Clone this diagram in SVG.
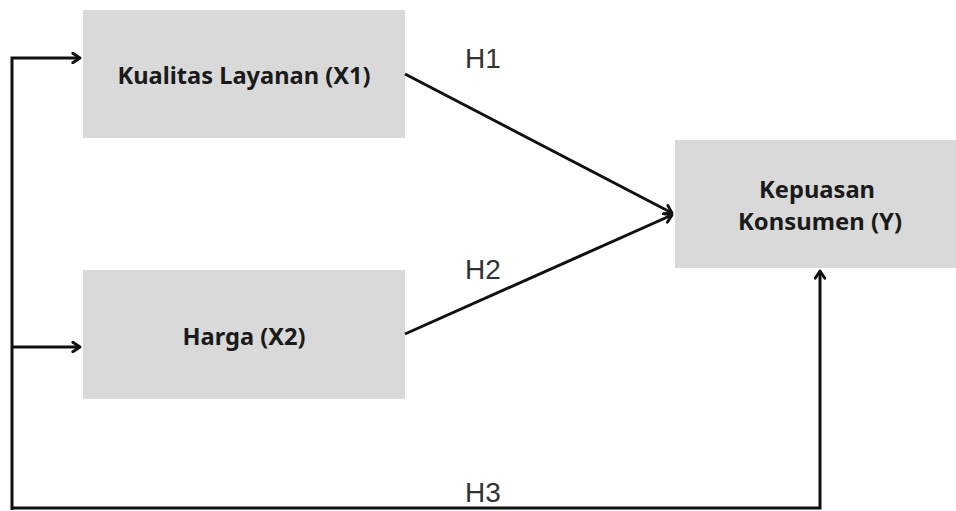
<svg xmlns="http://www.w3.org/2000/svg" width="956" height="511" viewBox="0 0 956 511">
<style>
.box{fill:#d9d9d9}
.lbl{font-family:"Noto Sans","Liberation Sans",sans-serif;font-weight:bold;font-size:24px;fill:#1a1a1a;text-anchor:middle}
.h{font-family:"Liberation Sans",Arial,sans-serif;font-size:28px;fill:#333}
.ln{fill:none;stroke:#111;stroke-width:3;stroke-linejoin:miter}
</style>
<defs>
<marker id="arr" viewBox="0 0 10 10" refX="8" refY="5" markerWidth="4" markerHeight="4" orient="auto" markerUnits="strokeWidth">
<path d="M2,1 L8,5 L2,9" fill="none" stroke="#111" stroke-width="2.4" stroke-linecap="round" stroke-linejoin="round"/>
</marker>
</defs>
<rect width="956" height="511" fill="#fff"/>
<g id="x1">
<rect class="box" x="83" y="10" width="322" height="128"/>
<text class="lbl" x="244" y="84" textLength="253" lengthAdjust="spacingAndGlyphs">Kualitas Layanan (X1)</text>
</g>
<g id="x2">
<rect class="box" x="83" y="270" width="322" height="129"/>
<text class="lbl" x="244" y="345" textLength="123" lengthAdjust="spacingAndGlyphs">Harga (X2)</text>
</g>
<g id="y">
<rect class="box" x="675" y="140" width="281" height="128"/>
<text class="lbl" x="817" y="198" textLength="116" lengthAdjust="spacingAndGlyphs">Kepuasan</text>
<text class="lbl" x="820" y="230" textLength="164" lengthAdjust="spacingAndGlyphs">Konsumen (Y)</text>
</g>
<g id="connectors">
<path class="ln" d="M12,510 V58 H80" marker-end="url(#arr)"/>
<path class="ln" d="M12,347 H80" marker-end="url(#arr)"/>
<path class="ln" d="M405,74 L672,213" marker-end="url(#arr)"/>
<path class="ln" d="M405,334 L672,215" marker-end="url(#arr)"/>
<path class="ln" d="M12,508 H820 V271" marker-end="url(#arr)"/>
<text class="h" x="465" y="68">H1</text>
<text class="h" x="465" y="279">H2</text>
<text class="h" x="465" y="502">H3</text>
</g>
</svg>
